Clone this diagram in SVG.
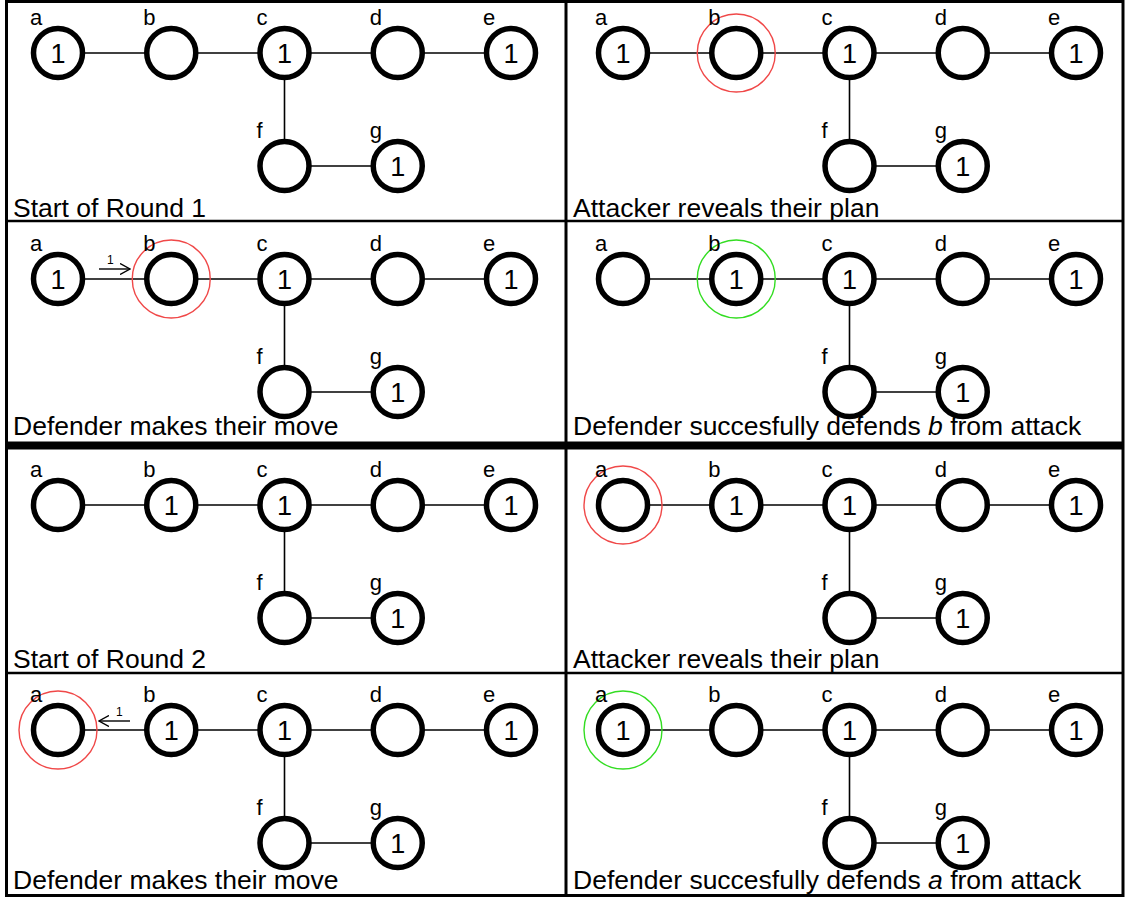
<svg xmlns="http://www.w3.org/2000/svg" width="1126" height="897" viewBox="0 0 1126 897">
<defs>
<style>
text{font-family:"Liberation Sans",Arial,sans-serif;fill:#000}
.node{fill:#fff;stroke:#000;stroke-width:5.5}
.edge{stroke:#000;stroke-width:1.6;fill:none}
.lbl{font-size:22px}
.val{font-size:27px;text-anchor:middle}
.cap{font-size:26.5px}
.red{fill:none;stroke:#f04848;stroke-width:1.4}
.green{fill:none;stroke:#33dd22;stroke-width:1.4}
.arr{stroke:#000;stroke-width:1.4;fill:none}
.small{font-size:12px}
.frame{fill:none;stroke:#000}
</style>
<marker id="head" viewBox="0 0 11 12" refX="10" refY="6" markerWidth="11" markerHeight="12" markerUnits="userSpaceOnUse" orient="auto">
<path d="M0,0.5 L10,6 L0,11.5" fill="none" stroke="#000" stroke-width="1.4"/>
</marker>
</defs>
<rect width="1126" height="897" fill="#fff"/>

<!-- frame -->
<g id="frame">
<rect class="frame" x="6.5" y="1.5" width="1116.5" height="894" stroke-width="3"/>
<line class="frame" x1="566" y1="1.5" x2="566" y2="895.5" stroke-width="3"/>
<line class="frame" x1="6.5" y1="221" x2="1123" y2="221" stroke-width="2.5"/>
<line class="frame" x1="6.5" y1="445.5" x2="1123" y2="445.5" stroke-width="8"/>
<line class="frame" x1="6.5" y1="673" x2="1123" y2="673" stroke-width="2.5"/>
</g>

<!-- Panel 1 -->
<g id="panel1" transform="translate(58,53)">
<g id="p1-connectors">
<line class="edge" x1="0" y1="0" x2="453" y2="0"/>
<line class="edge" x1="226.5" y1="0" x2="226.5" y2="113"/>
<line class="edge" x1="226.5" y1="113" x2="339.75" y2="113"/>
</g>
<g id="p1-a"><circle class="node" cx="0" cy="0" r="24.5"/><text class="val" x="0" y="10">1</text><text class="lbl" x="-28" y="-28">a</text></g>
<g id="p1-b"><circle class="node" cx="113.25" cy="0" r="24.5"/><text class="lbl" x="85.25" y="-28">b</text></g>
<g id="p1-c"><circle class="node" cx="226.5" cy="0" r="24.5"/><text class="val" x="226.5" y="10">1</text><text class="lbl" x="198.5" y="-28">c</text></g>
<g id="p1-d"><circle class="node" cx="339.75" cy="0" r="24.5"/><text class="lbl" x="311.75" y="-28">d</text></g>
<g id="p1-e"><circle class="node" cx="453" cy="0" r="24.5"/><text class="val" x="453" y="10">1</text><text class="lbl" x="425" y="-28">e</text></g>
<g id="p1-f"><circle class="node" cx="226.5" cy="113" r="24.5"/><text class="lbl" x="198.5" y="85">f</text></g>
<g id="p1-g"><circle class="node" cx="339.75" cy="113" r="24.5"/><text class="val" x="339.75" y="123">1</text><text class="lbl" x="311.75" y="85">g</text></g>
</g>
<text class="cap" x="13" y="217">Start of Round 1</text>

<!-- Panel 2 -->
<g id="panel2" transform="translate(623,53)">
<g id="p2-connectors">
<line class="edge" x1="0" y1="0" x2="453" y2="0"/>
<line class="edge" x1="226.5" y1="0" x2="226.5" y2="113"/>
<line class="edge" x1="226.5" y1="113" x2="339.75" y2="113"/>
</g>
<g id="p2-a"><circle class="node" cx="0" cy="0" r="24.5"/><text class="val" x="0" y="10">1</text><text class="lbl" x="-28" y="-28">a</text></g>
<g id="p2-b"><circle class="red" cx="113.25" cy="0" r="39"/><circle class="node" cx="113.25" cy="0" r="24.5"/><text class="lbl" x="85.25" y="-28">b</text></g>
<g id="p2-c"><circle class="node" cx="226.5" cy="0" r="24.5"/><text class="val" x="226.5" y="10">1</text><text class="lbl" x="198.5" y="-28">c</text></g>
<g id="p2-d"><circle class="node" cx="339.75" cy="0" r="24.5"/><text class="lbl" x="311.75" y="-28">d</text></g>
<g id="p2-e"><circle class="node" cx="453" cy="0" r="24.5"/><text class="val" x="453" y="10">1</text><text class="lbl" x="425" y="-28">e</text></g>
<g id="p2-f"><circle class="node" cx="226.5" cy="113" r="24.5"/><text class="lbl" x="198.5" y="85">f</text></g>
<g id="p2-g"><circle class="node" cx="339.75" cy="113" r="24.5"/><text class="val" x="339.75" y="123">1</text><text class="lbl" x="311.75" y="85">g</text></g>
</g>
<text class="cap" x="573" y="217">Attacker reveals their plan</text>

<!-- Panel 3 -->
<g id="panel3" transform="translate(58,279)">
<g id="p3-connectors">
<line class="edge" x1="0" y1="0" x2="453" y2="0"/>
<line class="edge" x1="226.5" y1="0" x2="226.5" y2="113"/>
<line class="edge" x1="226.5" y1="113" x2="339.75" y2="113"/>
<line class="arr" x1="41" y1="-10" x2="72" y2="-10" marker-end="url(#head)"/>
<text class="small" x="49" y="-15">1</text>
</g>
<g id="p3-a"><circle class="node" cx="0" cy="0" r="24.5"/><text class="val" x="0" y="10">1</text><text class="lbl" x="-28" y="-28">a</text></g>
<g id="p3-b"><circle class="red" cx="113.25" cy="0" r="39"/><circle class="node" cx="113.25" cy="0" r="24.5"/><text class="lbl" x="85.25" y="-28">b</text></g>
<g id="p3-c"><circle class="node" cx="226.5" cy="0" r="24.5"/><text class="val" x="226.5" y="10">1</text><text class="lbl" x="198.5" y="-28">c</text></g>
<g id="p3-d"><circle class="node" cx="339.75" cy="0" r="24.5"/><text class="lbl" x="311.75" y="-28">d</text></g>
<g id="p3-e"><circle class="node" cx="453" cy="0" r="24.5"/><text class="val" x="453" y="10">1</text><text class="lbl" x="425" y="-28">e</text></g>
<g id="p3-f"><circle class="node" cx="226.5" cy="113" r="24.5"/><text class="lbl" x="198.5" y="85">f</text></g>
<g id="p3-g"><circle class="node" cx="339.75" cy="113" r="24.5"/><text class="val" x="339.75" y="123">1</text><text class="lbl" x="311.75" y="85">g</text></g>
</g>
<text class="cap" x="13" y="435">Defender makes their move</text>

<!-- Panel 4 -->
<g id="panel4" transform="translate(623,279)">
<g id="p4-connectors">
<line class="edge" x1="0" y1="0" x2="453" y2="0"/>
<line class="edge" x1="226.5" y1="0" x2="226.5" y2="113"/>
<line class="edge" x1="226.5" y1="113" x2="339.75" y2="113"/>
</g>
<g id="p4-a"><circle class="node" cx="0" cy="0" r="24.5"/><text class="lbl" x="-28" y="-28">a</text></g>
<g id="p4-b"><circle class="green" cx="113.25" cy="0" r="39"/><circle class="node" cx="113.25" cy="0" r="24.5"/><text class="val" x="113.25" y="10">1</text><text class="lbl" x="85.25" y="-28">b</text></g>
<g id="p4-c"><circle class="node" cx="226.5" cy="0" r="24.5"/><text class="val" x="226.5" y="10">1</text><text class="lbl" x="198.5" y="-28">c</text></g>
<g id="p4-d"><circle class="node" cx="339.75" cy="0" r="24.5"/><text class="lbl" x="311.75" y="-28">d</text></g>
<g id="p4-e"><circle class="node" cx="453" cy="0" r="24.5"/><text class="val" x="453" y="10">1</text><text class="lbl" x="425" y="-28">e</text></g>
<g id="p4-f"><circle class="node" cx="226.5" cy="113" r="24.5"/><text class="lbl" x="198.5" y="85">f</text></g>
<g id="p4-g"><circle class="node" cx="339.75" cy="113" r="24.5"/><text class="val" x="339.75" y="123">1</text><text class="lbl" x="311.75" y="85">g</text></g>
</g>
<text class="cap" x="573" y="435">Defender succesfully defends <tspan font-style="italic">b</tspan> from attack</text>

<!-- Panel 5 -->
<g id="panel5" transform="translate(58,505)">
<g id="p5-connectors">
<line class="edge" x1="0" y1="0" x2="453" y2="0"/>
<line class="edge" x1="226.5" y1="0" x2="226.5" y2="113"/>
<line class="edge" x1="226.5" y1="113" x2="339.75" y2="113"/>
</g>
<g id="p5-a"><circle class="node" cx="0" cy="0" r="24.5"/><text class="lbl" x="-28" y="-28">a</text></g>
<g id="p5-b"><circle class="node" cx="113.25" cy="0" r="24.5"/><text class="val" x="113.25" y="10">1</text><text class="lbl" x="85.25" y="-28">b</text></g>
<g id="p5-c"><circle class="node" cx="226.5" cy="0" r="24.5"/><text class="val" x="226.5" y="10">1</text><text class="lbl" x="198.5" y="-28">c</text></g>
<g id="p5-d"><circle class="node" cx="339.75" cy="0" r="24.5"/><text class="lbl" x="311.75" y="-28">d</text></g>
<g id="p5-e"><circle class="node" cx="453" cy="0" r="24.5"/><text class="val" x="453" y="10">1</text><text class="lbl" x="425" y="-28">e</text></g>
<g id="p5-f"><circle class="node" cx="226.5" cy="113" r="24.5"/><text class="lbl" x="198.5" y="85">f</text></g>
<g id="p5-g"><circle class="node" cx="339.75" cy="113" r="24.5"/><text class="val" x="339.75" y="123">1</text><text class="lbl" x="311.75" y="85">g</text></g>
</g>
<text class="cap" x="13" y="668">Start of Round 2</text>

<!-- Panel 6 -->
<g id="panel6" transform="translate(623,505)">
<g id="p6-connectors">
<line class="edge" x1="0" y1="0" x2="453" y2="0"/>
<line class="edge" x1="226.5" y1="0" x2="226.5" y2="113"/>
<line class="edge" x1="226.5" y1="113" x2="339.75" y2="113"/>
</g>
<g id="p6-a"><circle class="red" cx="0" cy="0" r="39"/><circle class="node" cx="0" cy="0" r="24.5"/><text class="lbl" x="-28" y="-28">a</text></g>
<g id="p6-b"><circle class="node" cx="113.25" cy="0" r="24.5"/><text class="val" x="113.25" y="10">1</text><text class="lbl" x="85.25" y="-28">b</text></g>
<g id="p6-c"><circle class="node" cx="226.5" cy="0" r="24.5"/><text class="val" x="226.5" y="10">1</text><text class="lbl" x="198.5" y="-28">c</text></g>
<g id="p6-d"><circle class="node" cx="339.75" cy="0" r="24.5"/><text class="lbl" x="311.75" y="-28">d</text></g>
<g id="p6-e"><circle class="node" cx="453" cy="0" r="24.5"/><text class="val" x="453" y="10">1</text><text class="lbl" x="425" y="-28">e</text></g>
<g id="p6-f"><circle class="node" cx="226.5" cy="113" r="24.5"/><text class="lbl" x="198.5" y="85">f</text></g>
<g id="p6-g"><circle class="node" cx="339.75" cy="113" r="24.5"/><text class="val" x="339.75" y="123">1</text><text class="lbl" x="311.75" y="85">g</text></g>
</g>
<text class="cap" x="573" y="668">Attacker reveals their plan</text>

<!-- Panel 7 -->
<g id="panel7" transform="translate(58,730)">
<g id="p7-connectors">
<line class="edge" x1="0" y1="0" x2="453" y2="0"/>
<line class="edge" x1="226.5" y1="0" x2="226.5" y2="113"/>
<line class="edge" x1="226.5" y1="113" x2="339.75" y2="113"/>
<line class="arr" x1="72" y1="-9" x2="41" y2="-9" marker-end="url(#head)"/>
<text class="small" x="58" y="-14">1</text>
</g>
<g id="p7-a"><circle class="red" cx="0" cy="0" r="39"/><circle class="node" cx="0" cy="0" r="24.5"/><text class="lbl" x="-28" y="-28">a</text></g>
<g id="p7-b"><circle class="node" cx="113.25" cy="0" r="24.5"/><text class="val" x="113.25" y="10">1</text><text class="lbl" x="85.25" y="-28">b</text></g>
<g id="p7-c"><circle class="node" cx="226.5" cy="0" r="24.5"/><text class="val" x="226.5" y="10">1</text><text class="lbl" x="198.5" y="-28">c</text></g>
<g id="p7-d"><circle class="node" cx="339.75" cy="0" r="24.5"/><text class="lbl" x="311.75" y="-28">d</text></g>
<g id="p7-e"><circle class="node" cx="453" cy="0" r="24.5"/><text class="val" x="453" y="10">1</text><text class="lbl" x="425" y="-28">e</text></g>
<g id="p7-f"><circle class="node" cx="226.5" cy="113" r="24.5"/><text class="lbl" x="198.5" y="85">f</text></g>
<g id="p7-g"><circle class="node" cx="339.75" cy="113" r="24.5"/><text class="val" x="339.75" y="123">1</text><text class="lbl" x="311.75" y="85">g</text></g>
</g>
<text class="cap" x="13" y="889">Defender makes their move</text>

<!-- Panel 8 -->
<g id="panel8" transform="translate(623,730)">
<g id="p8-connectors">
<line class="edge" x1="0" y1="0" x2="453" y2="0"/>
<line class="edge" x1="226.5" y1="0" x2="226.5" y2="113"/>
<line class="edge" x1="226.5" y1="113" x2="339.75" y2="113"/>
</g>
<g id="p8-a"><circle class="green" cx="0" cy="0" r="39"/><circle class="node" cx="0" cy="0" r="24.5"/><text class="val" x="0" y="10">1</text><text class="lbl" x="-28" y="-28">a</text></g>
<g id="p8-b"><circle class="node" cx="113.25" cy="0" r="24.5"/><text class="lbl" x="85.25" y="-28">b</text></g>
<g id="p8-c"><circle class="node" cx="226.5" cy="0" r="24.5"/><text class="val" x="226.5" y="10">1</text><text class="lbl" x="198.5" y="-28">c</text></g>
<g id="p8-d"><circle class="node" cx="339.75" cy="0" r="24.5"/><text class="lbl" x="311.75" y="-28">d</text></g>
<g id="p8-e"><circle class="node" cx="453" cy="0" r="24.5"/><text class="val" x="453" y="10">1</text><text class="lbl" x="425" y="-28">e</text></g>
<g id="p8-f"><circle class="node" cx="226.5" cy="113" r="24.5"/><text class="lbl" x="198.5" y="85">f</text></g>
<g id="p8-g"><circle class="node" cx="339.75" cy="113" r="24.5"/><text class="val" x="339.75" y="123">1</text><text class="lbl" x="311.75" y="85">g</text></g>
</g>
<text class="cap" x="573" y="889">Defender succesfully defends <tspan font-style="italic">a</tspan> from attack</text>
</svg>
